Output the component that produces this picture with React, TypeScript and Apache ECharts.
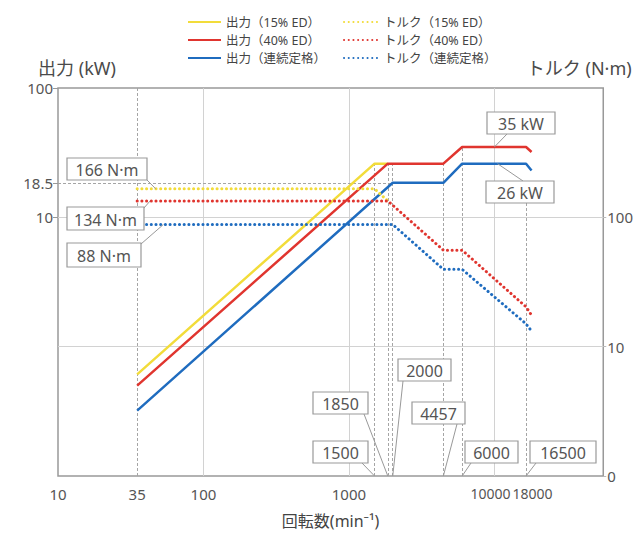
import React, { useEffect, useRef } from "react";
import * as echarts from "echarts";

// ---------- data ----------
const speedTicks = [10, 35, 100, 1000, 10000, 18000];
const powerTicks = [10, 18.5, 100];
const torqueTicks = [1, 10, 100];
const torqueTickLabels = ["0", "10", "100"];

const speedGridLines = [100, 1000, 10000];
const powerGridLines = [1, 10];

const powerNames = ["出力（15% ED）", "出力（40% ED）", "出力（連続定格）"];
const torqueNames = ["トルク（15% ED）", "トルク（40% ED）", "トルク（連続定格）"];

// [speed (min-1), power (kW)]
const power15 = [[35, 0.61], [1500, 26], [1850, 26]];
const power40 = [[35, 0.5], [1850, 26], [4457, 26], [6000, 35], [16500, 35], [18000, 32]];
const powerCont = [[35, 0.32], [2000, 18.5], [4457, 18.5], [6000, 26], [16500, 26], [18000, 23]];

// [speed (min-1), torque (N·m)]
const torque15 = [[35, 166], [1500, 166], [1850, 134]];
const torque40 = [[35, 134], [1850, 134], [4457, 55.7], [6000, 55.7], [16500, 20.3], [18000, 17.5]];
const torqueCont = [[35, 88], [2000, 88], [4457, 39.6], [6000, 39.6], [16500, 15], [18000, 13.2]];

// dashed guide lines: speed and the power level (kW) they rise to
const guideSpeeds = [35, 1500, 1850, 2000, 4457, 6000, 16500];
const guideTopPower = [100, 26, 26, 26, 26, 35, 13];
const ratedPower = 18.5;
const ratedPowerSpeed = 2000;

// callouts: label, anchor speed, anchor value, axis (0 power, 1 torque)
const calloutLabels = ["166 N·m", "134 N·m", "88 N·m", "35 kW", "26 kW", "2000", "1850", "4457", "1500", "6000", "16500"];
const calloutSpeeds = [47, 43, 53, 10000, 10500, 2000, 1850, 4457, 1500, 6000, 16500];
const calloutValues = [166, 134, 88, 35, 26, 0.1, 0.1, 0.1, 0.1, 0.1, 0.1];
const calloutAxis = [1, 1, 1, 0, 0, 0, 0, 0, 0, 0, 0];

// ---------- layout (pixels) ----------
// box x, y, w, h, leader start x, y
const calloutLayout = [
  [67, 158, 80, 22, 147, 180],
  [67, 207, 77, 23, 144, 208],
  [67, 243, 74, 24, 141, 244],
  [487, 112, 68, 22, 507, 134],
  [486, 181, 68, 22, 523, 181],
  [398, 359, 53, 22, 403, 381],
  [313, 392, 55, 22, 364, 414],
  [412, 402, 53, 22, 457, 424],
  [313, 441, 55, 22, 362, 463],
  [465, 441, 53, 22, 471, 463],
  [530, 441, 66, 22, 536, 463],
];

const L = Math.log10;
const FONT = "'Noto Sans', 'Noto Sans CJK JP', sans-serif";
const YELLOW = "#f2dc3a";
const RED = "#e0352f";
const BLUE = "#1f6cbf";
const GRAY_TEXT = "#555";

function lineSeries(name: string, data: number[][], color: string, yAxisIndex: number, dotted: boolean) {
  return {
    name,
    type: "line",
    xAxisIndex: 0,
    yAxisIndex,
    data: data.map(([x, y]) => [L(x), L(y)]),
    symbol: "none",
    showSymbol: false,
    silent: true,
    z: 3,
    emphasis: { disabled: true },
    itemStyle: { color },
    lineStyle: dotted
      ? { color, width: 3, type: [0.1, 4.6], cap: "round" }
      : { color, width: 2.5 },
  };
}

const legendBase = {
  orient: "vertical",
  top: 8,
  itemHeight: 14,
  itemGap: 0,
  itemStyle: { opacity: 0, borderWidth: 0 },
  textStyle: { fontSize: 12.5, lineHeight: 18, color: "#444", fontFamily: FONT },
};

export default function App() {
  const ref = useRef<HTMLDivElement>(null);

  useEffect(() => {
    if (!ref.current) return;
    const chart = echarts.init(ref.current, undefined, { renderer: "svg" });

    const option: any = {
      animation: false,
      backgroundColor: "#fff",
      textStyle: { fontFamily: FONT },
      grid: {
        left: 58,
        right: 32,
        top: 88,
        bottom: 56,
        show: true,
        borderColor: "#999",
        borderWidth: 1.5,
      },
      legend: [
        { ...legendBase, data: powerNames, left: 182, itemWidth: 33 },
        { ...legendBase, data: torqueNames, left: 338, itemWidth: 35 },
      ],
      xAxis: {
        type: "value",
        min: 1,
        max: L(56000),
        axisLine: { show: false },
        axisTick: { show: false },
        splitLine: { show: false },
        axisLabel: {
          customValues: speedTicks.map(L),
          fontSize: 15,
          color: GRAY_TEXT,
          margin: 10,
          formatter: (v: number) => {
            const n = Math.round(Math.pow(10, v));
            if (n === 10000) return "{a|" + n + "}";
            if (n === 18000) return "{b|" + n + "}";
            return String(n);
          },
          rich: {
            a: { fontSize: 14, color: GRAY_TEXT, padding: [0, 8, 3, 0] },
            b: { fontSize: 14, color: GRAY_TEXT, padding: [0, 0, 3, 2] },
          },
        },
        name: "回転数(min⁻¹)",
        nameLocation: "middle",
        nameGap: 37,
        nameTextStyle: { fontSize: 16, color: "#444" },
      },
      yAxis: [
        {
          type: "value",
          position: "left",
          min: -1,
          max: 2,
          axisLine: { show: false },
          splitLine: { show: false },
          axisTick: {
            show: true,
            customValues: powerTicks.map(L),
            length: 5,
            lineStyle: { color: "#999" },
          },
          axisLabel: {
            customValues: powerTicks.map(L),
            fontSize: 15,
            color: GRAY_TEXT,
            margin: 5,
            formatter: (v: number) => String(Math.round(Math.pow(10, v) * 10) / 10),
          },
          name: "出力 (kW)",
          nameLocation: "end",
          nameGap: 11,
          nameTextStyle: { fontSize: 18, color: "#4a4a4a", padding: [0, 0, 0, 38] },
        },
        {
          type: "value",
          position: "right",
          min: 0,
          max: 3,
          axisLine: { show: false },
          splitLine: { show: false },
          axisTick: {
            show: true,
            customValues: torqueTicks.map(L),
            length: 3,
            lineStyle: { color: "#bbb" },
          },
          axisLabel: {
            customValues: torqueTicks.map(L),
            fontSize: 15,
            color: GRAY_TEXT,
            margin: 4,
            formatter: (v: number) => {
              const i = torqueTicks.findIndex((t) => Math.abs(L(t) - v) < 1e-6);
              return i >= 0 ? torqueTickLabels[i] : "";
            },
          },
          name: "トルク (N·m)",
          nameLocation: "end",
          nameGap: 11,
          nameTextStyle: { fontSize: 18, color: "#4a4a4a", padding: [0, 48, 0, 0] },
        },
      ],
      series: [
        {
          type: "line",
          xAxisIndex: 0,
          yAxisIndex: 0,
          data: [],
          silent: true,
          z: 1,
          markLine: {
            silent: true,
            symbol: "none",
            z: 1,
            animation: false,
            label: { show: false },
            emphasis: { disabled: true },
            lineStyle: { color: "#d2d2d2", width: 1, type: "solid" },
            data: [
              ...speedGridLines.map((s) => ({ xAxis: L(s) })),
              ...powerGridLines.map((p) => ({ yAxis: L(p) })),
            ],
          },
        },
        {
          type: "line",
          xAxisIndex: 0,
          yAxisIndex: 0,
          data: [],
          silent: true,
          z: 2,
          markLine: {
            silent: true,
            symbol: "none",
            z: 2,
            animation: false,
            label: { show: false },
            emphasis: { disabled: true },
            lineStyle: { color: "#a5a5a5", width: 1, type: [3, 2] },
            data: [
              ...guideSpeeds.map((s, i) => [
                { coord: [L(s), -1] },
                { coord: [L(s), L(guideTopPower[i])] },
              ]),
              [
                { coord: [1, L(ratedPower)] },
                { coord: [L(ratedPowerSpeed), L(ratedPower)] },
              ],
            ],
          },
        },
        lineSeries(powerNames[0], power15, YELLOW, 0, false),
        lineSeries(powerNames[1], power40, RED, 0, false),
        lineSeries(powerNames[2], powerCont, BLUE, 0, false),
        lineSeries(torqueNames[0], torque15, YELLOW, 1, true),
        lineSeries(torqueNames[1], torque40, RED, 1, true),
        lineSeries(torqueNames[2], torqueCont, BLUE, 1, true),
      ],
    };

    chart.setOption(option);

    const graphics: any[] = [];
    calloutLabels.forEach((label, i) => {
      const anchor = chart.convertToPixel(
        { xAxisIndex: 0, yAxisIndex: calloutAxis[i] } as any,
        [L(calloutSpeeds[i]), L(calloutValues[i])]
      ) as number[];
      const [bx, by, bw, bh, fx, fy] = calloutLayout[i];
      graphics.push({
        type: "line",
        silent: true,
        z: 50,
        shape: { x1: fx, y1: fy, x2: anchor[0], y2: anchor[1] },
        style: { stroke: "#999", lineWidth: 1 },
      });
      graphics.push({
        type: "rect",
        silent: true,
        z: 60,
        shape: { x: bx, y: by, width: bw, height: bh },
        style: { fill: "#fff", stroke: "#999", lineWidth: 1.2 },
      });
      graphics.push({
        type: "text",
        silent: true,
        z: 61,
        x: bx + bw / 2,
        y: by + bh / 2 + 1,
        style: {
          text: label,
          fontSize: 16,
          fontFamily: FONT,
          fill: GRAY_TEXT,
          align: "center",
          verticalAlign: "middle",
          textAlign: "center",
          textVerticalAlign: "middle",
        },
      });
    });
    chart.setOption({ graphic: graphics });

    return () => chart.dispose();
  }, []);

  return (
    <div
      ref={ref}
      style={{ position: "absolute", left: 0, top: 0, width: 636, height: 534 }}
    />
  );
}
